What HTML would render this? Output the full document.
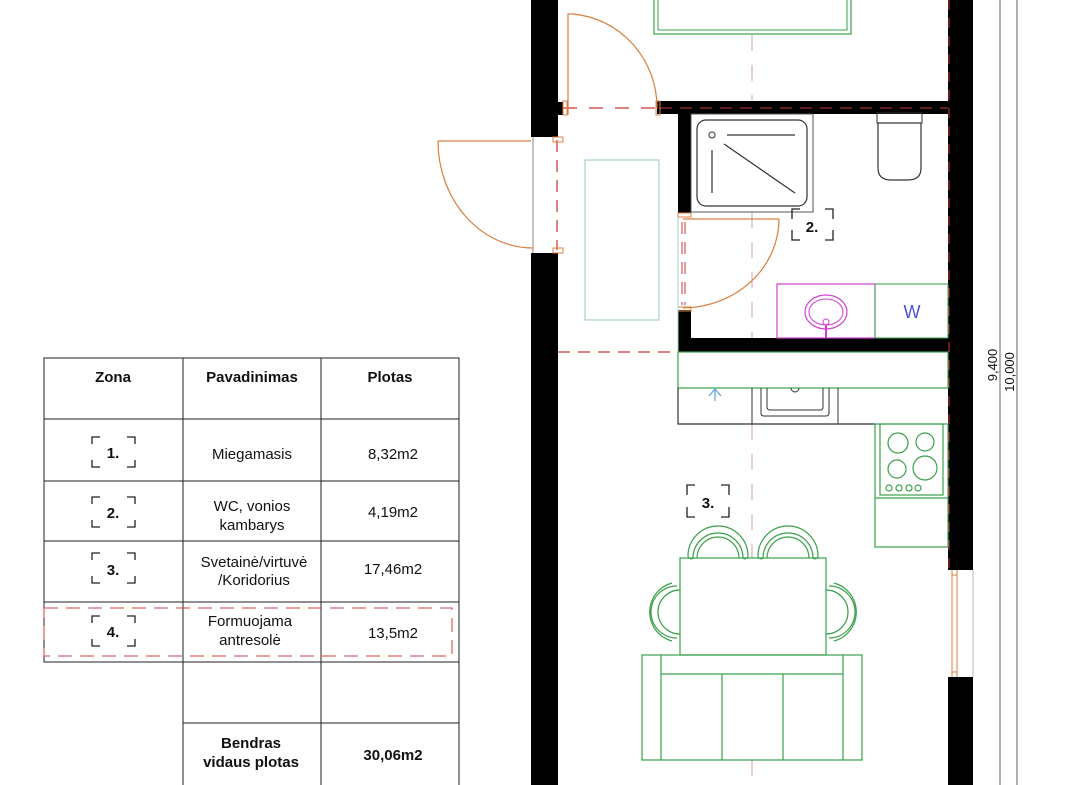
<!DOCTYPE html>
<html><head><meta charset="utf-8"><style>
html,body{margin:0;padding:0;background:#fff;}
svg{display:block;}
text{font-family:"Liberation Sans",Arial,sans-serif;}
</style></head><body>
<svg width="1080" height="785" viewBox="0 0 1080 785" xmlns="http://www.w3.org/2000/svg">
<rect width="1080" height="785" fill="#fff"/>

<!-- centerline dashed -->
<g stroke="#d9a0a0" stroke-width="1" stroke-dasharray="16,14">
<line x1="752" y1="35" x2="752" y2="100"/>
<line x1="752" y1="212" x2="752" y2="338"/>
<line x1="752" y1="424" x2="752" y2="558"/>
<line x1="752" y1="760" x2="752" y2="785"/>
</g>

<!-- bed top -->
<rect x="654" y="-2" width="197" height="36" fill="none" stroke="#3aa04a" stroke-width="1.2"/>
<rect x="658" y="-2" width="189" height="32" fill="none" stroke="#3aa04a" stroke-width="1"/>

<!-- left wall -->
<rect x="531" y="0" width="27" height="137" fill="#000"/>
<rect x="558" y="102" width="5" height="13" fill="#000"/>
<rect x="531" y="253" width="27" height="532" fill="#000"/>
<line x1="533" y1="137" x2="533" y2="253" stroke="#888" stroke-width="1"/>
<line x1="557" y1="140" x2="557" y2="250" stroke="#c33" stroke-width="1.2" stroke-dasharray="12,8"/>
<rect x="553" y="137" width="10" height="5" fill="none" stroke="#d98040"/>
<rect x="553" y="248" width="10" height="5" fill="none" stroke="#d98040"/>

<!-- right wall -->
<rect x="948" y="0" width="25" height="570" fill="#000"/>
<rect x="948" y="677" width="25" height="108" fill="#000"/>
<line x1="949" y1="0" x2="949" y2="570" stroke="#c33" stroke-width="1" stroke-dasharray="10,8"/>
<line x1="952" y1="570" x2="952" y2="677" stroke="#d98040" stroke-width="1"/>
<line x1="957" y1="570" x2="957" y2="677" stroke="#d98040" stroke-width="1"/>
<line x1="952" y1="575" x2="957" y2="575" stroke="#d98040"/>
<line x1="952" y1="672" x2="957" y2="672" stroke="#d98040"/>
<line x1="973" y1="570" x2="973" y2="677" stroke="#bbb"/>

<!-- dimension lines -->
<line x1="1000" y1="0" x2="1000" y2="785" stroke="#666" stroke-width="1"/>
<line x1="1017" y1="0" x2="1017" y2="785" stroke="#666" stroke-width="1"/>
<text transform="translate(997,365) rotate(-90)" font-size="13" text-anchor="middle" fill="#111">9,400</text>
<text transform="translate(1014,372) rotate(-90)" font-size="13" text-anchor="middle" fill="#111">10,000</text>

<!-- top bathroom wall -->
<rect x="657" y="101" width="291" height="13" fill="#000"/>
<line x1="660" y1="108" x2="948" y2="108" stroke="#c33" stroke-width="1" stroke-dasharray="12,8"/>
<line x1="563" y1="108" x2="657" y2="108" stroke="#c33" stroke-width="1.2" stroke-dasharray="14,12"/>
<rect x="563" y="101" width="4" height="14" fill="none" stroke="#d98040"/>
<rect x="656" y="101" width="4" height="14" fill="none" stroke="#d98040"/>
<!-- top door -->
<polyline points="568,115 568,14 573,14" fill="none" stroke="#d98040" stroke-width="1.2"/>
<path d="M573,14 A92,94 0 0 1 657,108" fill="none" stroke="#d98040" stroke-width="1.2"/>

<!-- entrance door -->
<line x1="438" y1="141" x2="531" y2="141" stroke="#d98040" stroke-width="1.2"/>
<path d="M438,141 A95,107 0 0 0 533,248" fill="none" stroke="#d98040" stroke-width="1.2"/>

<!-- corridor rect -->
<rect x="585" y="160" width="74" height="160" fill="none" stroke="#9fd6c8" stroke-width="1.2"/>
<line x1="558" y1="352" x2="678" y2="352" stroke="#c33" stroke-width="1.2" stroke-dasharray="12,8"/>

<!-- bathroom walls -->
<rect x="678" y="114" width="13" height="99" fill="#000"/>
<rect x="678" y="310" width="13" height="30" fill="#000"/>
<rect x="678" y="338" width="270" height="14" fill="#000"/>
<rect x="678" y="213" width="13" height="4" fill="none" stroke="#d98040"/>
<rect x="678" y="307" width="13" height="4" fill="none" stroke="#d98040"/>
<line x1="678" y1="217" x2="678" y2="352" stroke="#9fd6c8" stroke-width="1"/>
<line x1="682" y1="222" x2="682" y2="305" stroke="#c33" stroke-width="1" stroke-dasharray="12,8"/>
<line x1="685" y1="222" x2="685" y2="305" stroke="#c33" stroke-width="1" stroke-dasharray="12,8"/>
<!-- bath door -->
<line x1="683" y1="219" x2="779" y2="219" stroke="#d98040" stroke-width="1.2"/>
<path d="M779,219 A97,89 0 0 1 683,308" fill="none" stroke="#d98040" stroke-width="1.2"/>

<!-- shower -->
<rect x="691" y="114" width="122" height="98" fill="none" stroke="#555" stroke-width="1"/>
<rect x="697" y="120" width="110" height="86" rx="9" fill="none" stroke="#333" stroke-width="1.2"/>
<circle cx="712" cy="135" r="3" fill="none" stroke="#333"/>
<line x1="727" y1="135" x2="795" y2="135" stroke="#333" stroke-width="1.2"/>
<line x1="712" y1="150" x2="712" y2="193" stroke="#333" stroke-width="1.2"/>
<line x1="724" y1="144" x2="795" y2="193" stroke="#333" stroke-width="1.2"/>

<!-- toilet -->
<rect x="877" y="113" width="45" height="10" fill="none" stroke="#333"/>
<path d="M878,123 L921,123 L921,168 Q921,180 908,180 L891,180 Q878,180 878,168 Z" fill="none" stroke="#333" stroke-width="1.2"/>

<!-- sink & W -->
<rect x="777" y="284" width="98" height="54" fill="none" stroke="#d040d0" stroke-width="1.2"/>
<ellipse cx="826" cy="312" rx="21" ry="17" fill="none" stroke="#d040d0" stroke-width="1.2"/>
<ellipse cx="826" cy="312" rx="17" ry="13" fill="none" stroke="#d040d0" stroke-width="1"/>
<circle cx="826" cy="322" r="3" fill="none" stroke="#d040d0"/>
<line x1="826" y1="325" x2="826" y2="338" stroke="#d040d0" stroke-width="2"/>
<rect x="875" y="284" width="73" height="54" fill="none" stroke="#3aa04a" stroke-width="1"/>
<text x="912" y="318" font-size="18" text-anchor="middle" fill="#5050c8">W</text>

<!-- markers helper -->
<g fill="none" stroke="#222" stroke-width="1.3">
  <path d="M792,219 v-10 h8 M825,209 h8 v10 M792,230 v10 h8 M825,240 h8 v-10"/>
  <path d="M687,495 v-10 h8 M721,485 h8 v10 M687,507 v10 h8 M721,517 h8 v-10"/>
</g>
<text x="812" y="232" font-size="15" font-weight="bold" text-anchor="middle" fill="#111">2.</text>
<text x="708" y="508" font-size="15" font-weight="bold" text-anchor="middle" fill="#111">3.</text>

<!-- kitchen -->
<rect x="678" y="352" width="270" height="36" fill="none" stroke="#3aa04a" stroke-width="1.2"/>
<path d="M678,388 V424 H875" fill="none" stroke="#333" stroke-width="1.2"/>
<line x1="752" y1="388" x2="752" y2="424" stroke="#333" stroke-width="1"/>
<line x1="838" y1="388" x2="838" y2="424" stroke="#333" stroke-width="1"/>
<path d="M761,388 V413 Q761,416 764,416 H826 Q829,416 829,413 V388" fill="none" stroke="#333"/>
<path d="M767,388 V407 Q767,410 770,410 H820 Q823,410 823,407 V388" fill="none" stroke="#333"/>
<path d="M791,388 A4,4 0 0 0 799,388" fill="none" stroke="#333"/>
<path d="M709,396 L715,389 L721,396 M715,389 V401" fill="none" stroke="#5aa0e0" stroke-width="1.2"/>
<rect x="875" y="424" width="73" height="123" fill="none" stroke="#3aa04a" stroke-width="1.2"/>
<rect x="880" y="424" width="63" height="71" fill="none" stroke="#3aa04a" stroke-width="1.2"/>
<line x1="875" y1="498" x2="948" y2="498" stroke="#3aa04a" stroke-width="1.2"/>
<g fill="none" stroke="#3aa04a" stroke-width="1.2">
<circle cx="898" cy="443" r="10"/><circle cx="925" cy="442" r="9"/>
<circle cx="897" cy="469" r="9"/><circle cx="925" cy="468" r="12"/>
<circle cx="889" cy="488" r="3"/><circle cx="899" cy="488" r="3"/><circle cx="909" cy="488" r="3"/><circle cx="918" cy="488" r="3"/>
</g>

<!-- table & chairs -->
<g fill="none" stroke="#3aa04a" stroke-width="1.2">
<rect x="680" y="558" width="146" height="97"/>
<path d="M688,556 A30,30 0 0 1 748,556 M693,558 A25,25 0 0 1 743,558 M697,558 A21,21 0 0 1 739,558 M688,556 a3,3 0 0 0 5,2 M748,556 a3,3 0 0 1 -5,2"/>
<path d="M758,556 A30,30 0 0 1 818,556 M763,558 A25,25 0 0 1 813,558 M767,558 A21,21 0 0 1 809,558 M758,556 a3,3 0 0 0 5,2 M818,556 a3,3 0 0 1 -5,2"/>
<path d="M672,583 A30,30 0 0 0 672,641 M677,586 A25,25 0 0 0 677,638 M680,590 A21,21 0 0 0 680,634"/>
<path d="M834,583 A30,30 0 0 1 834,641 M829,586 A25,25 0 0 1 829,638 M826,590 A21,21 0 0 1 826,634"/>
<!-- sofa -->
<rect x="642" y="655" width="220" height="105"/>
<line x1="661" y1="655" x2="661" y2="760"/>
<line x1="843" y1="655" x2="843" y2="760"/>
<line x1="661" y1="674" x2="843" y2="674"/>
<line x1="722" y1="674" x2="722" y2="760"/>
<line x1="783" y1="674" x2="783" y2="760"/>
</g>

<!-- TABLE -->
<g stroke="#222" stroke-width="1" fill="none">
<rect x="44" y="358" width="415" height="304"/>
<line x1="183" y1="358" x2="183" y2="785"/>
<line x1="321" y1="358" x2="321" y2="785"/>
<line x1="459" y1="662" x2="459" y2="785"/>
<line x1="44" y1="419" x2="459" y2="419"/>
<line x1="44" y1="481" x2="459" y2="481"/>
<line x1="44" y1="541" x2="459" y2="541"/>
<line x1="44" y1="602" x2="459" y2="602"/>
<line x1="183" y1="723" x2="459" y2="723"/>
</g>
<rect x="44" y="608" width="408" height="48" fill="none" stroke="#d04040" stroke-width="1" stroke-dasharray="14,8"/>
<g fill="none" stroke="#222" stroke-width="1.3">
<path d="M92,444 v-7 h8 M127,437 h8 v7 M92,460 v7 h8 M127,467 h8 v-7"/>
<path d="M92,504 v-7 h8 M127,497 h8 v7 M92,520 v7 h8 M127,527 h8 v-7"/>
<path d="M92,560 v-7 h8 M127,553 h8 v7 M92,576 v7 h8 M127,583 h8 v-7"/>
<path d="M92,623 v-7 h8 M127,616 h8 v7 M92,639 v7 h8 M127,646 h8 v-7"/>
</g>
<g font-size="15" text-anchor="middle" fill="#111">
<text x="113" y="382" font-weight="bold">Zona</text>
<text x="252" y="382" font-weight="bold">Pavadinimas</text>
<text x="390" y="382" font-weight="bold">Plotas</text>
<text x="113" y="458" font-weight="bold">1.</text>
<text x="113" y="518" font-weight="bold">2.</text>
<text x="113" y="575" font-weight="bold">3.</text>
<text x="113" y="637" font-weight="bold">4.</text>
<text x="252" y="459">Miegamasis</text>
<text x="252" y="511">WC, vonios</text>
<text x="252" y="530">kambarys</text>
<text x="254" y="567">Svetainė/virtuvė</text>
<text x="254" y="585">/Koridorius</text>
<text x="250" y="626">Formuojama</text>
<text x="250" y="645">antresolė</text>
<text x="393" y="459">8,32m2</text>
<text x="393" y="517">4,19m2</text>
<text x="393" y="574">17,46m2</text>
<text x="393" y="638">13,5m2</text>
<text x="251" y="748" font-weight="bold">Bendras</text>
<text x="251" y="767" font-weight="bold">vidaus plotas</text>
<text x="393" y="760" font-weight="bold">30,06m2</text>
</g>
</svg>
</body></html>
